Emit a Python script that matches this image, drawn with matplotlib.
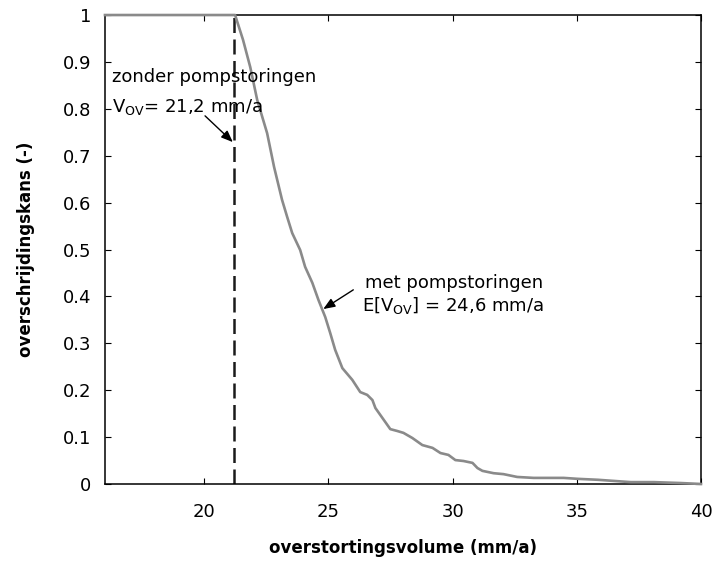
import numpy as np
import matplotlib
matplotlib.use('Agg')
import matplotlib.pyplot as plt

volume = [16, 21.24, 21.56, 21.85, 22.13, 22.53, 22.81, 23.13, 23.34, 23.54, 23.86,
          24.06, 24.35, 24.6, 24.87, 25.07, 25.27, 25.56, 25.96, 26.28, 26.56, 26.77,
          26.89, 27.17, 27.49, 27.77, 28.02, 28.38, 28.78, 29.19, 29.51, 29.83, 30.11,
          30.44, 30.8, 31.0, 31.2, 31.65, 32.05, 32.6, 33.26, 34.47, 35.03, 35.84,
          37.17, 38.1, 39.2, 40]
kans = [1, 1, 0.947, 0.889, 0.819, 0.748, 0.676, 0.606, 0.569, 0.535, 0.499,
        0.463, 0.429, 0.392, 0.356, 0.322, 0.286, 0.247, 0.222, 0.196, 0.190, 0.179,
        0.162, 0.141, 0.117, 0.113, 0.109, 0.098, 0.083, 0.077, 0.066, 0.062, 0.051,
        0.049, 0.045, 0.034, 0.028, 0.023, 0.021, 0.015, 0.013, 0.013, 0.011, 0.009,
        0.004, 0.004, 0.002, 0.0]
v_zonder = 21.2

xticks = [20, 25, 30, 35, 40]
yticks = [0, 0.1, 0.2, 0.3, 0.4, 0.5, 0.6, 0.7, 0.8, 0.9, 1]
ylabels = ['0', '0.1', '0.2', '0.3', '0.4', '0.5', '0.6', '0.7', '0.8', '0.9', '1']

fig = plt.figure(figsize=(7.16, 5.67), dpi=100)
ax = fig.add_axes([0.1466, 0.1464, 0.8324, 0.8271])

ax.plot(volume, kans, color='#8a8a8a', lw=1.9, zorder=3, clip_on=False)
ax.plot([v_zonder, v_zonder], [0, 1], color='#1a1a1a', lw=1.8,
        dashes=(6, 2.6), zorder=2)

ax.set_xlim(16, 40)
ax.set_ylim(0, 1)
ax.set_xticks(xticks)
ax.set_yticks(yticks)
ax.set_yticklabels(ylabels)
ax.tick_params(direction='in', length=4.5, width=0.8, top=True, right=True,
               labelsize=13)
ax.tick_params(axis='x', pad=14)
ax.tick_params(axis='y', pad=10)
for s in ax.spines.values():
    s.set_linewidth(1.1)

ax.set_xlabel('overstortingsvolume (mm/a)', fontsize=12, fontweight='bold', labelpad=13)
ax.set_ylabel('overschrijdingskans (-)', fontsize=12, fontweight='bold', labelpad=20)

ax.text(16.28, 0.868, 'zonder pompstoringen', fontsize=13, ha='left', va='center')
ax.text(16.28, 0.804, r'V$_{\rm OV}$= 21,2 mm/a', fontsize=13, ha='left', va='center')
ax.annotate('', xy=(21.15, 0.729), xytext=(20.03, 0.785),
            arrowprops=dict(arrowstyle='-|>,head_length=0.5,head_width=0.2',
                            color='k', lw=1, mutation_scale=14,
                            shrinkA=0, shrinkB=0))

ax.text(26.48, 0.428, 'met pompstoringen', fontsize=13, ha='left', va='center')
ax.text(26.36, 0.38, r'E[V$_{\rm OV}$] = 24,6 mm/a', fontsize=13, ha='left', va='center')
ax.annotate('', xy=(24.79, 0.373), xytext=(26.0, 0.414),
            arrowprops=dict(arrowstyle='-|>,head_length=0.5,head_width=0.2',
                            color='k', lw=1, mutation_scale=14,
                            shrinkA=0, shrinkB=0))

plt.savefig('out.png', dpi=100)
